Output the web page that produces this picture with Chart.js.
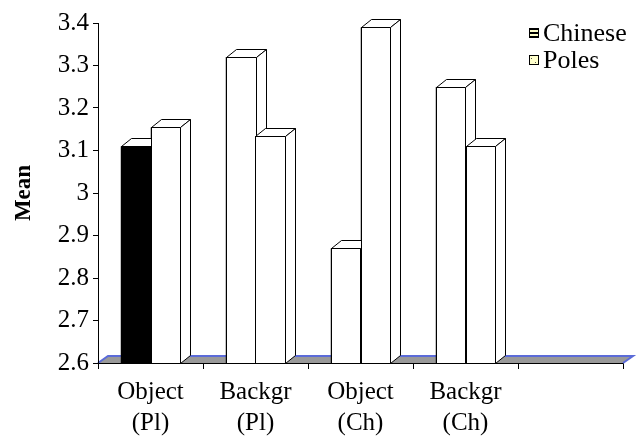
<!DOCTYPE html>
<html>
<head>
<meta charset="utf-8">
<script src="https://cdn.jsdelivr.net/npm/chart.js@4.4.0/dist/chart.umd.min.js"></script>
<style>
html, body { margin: 0; padding: 0; background: #fff; }
</style>
</head>
<body>
<canvas id="barChart" width="640" height="437"></canvas>
<script>
// data
const categories = [['Object', '(Pl)'], ['Backgr', '(Pl)'], ['Object', '(Ch)'], ['Backgr', '(Ch)'], ''];
const seriesNames = ['Chinese', 'Poles'];
const chineseMeans = [3.11, 3.32, 2.87, 3.25, null];
const polesMeans = [3.155, 3.135, 3.39, 3.11, null];
const chineseColors = ['#000000', '#ffffff', '#ffffff', '#ffffff', '#ffffff'];
const yMin = 2.6, yMax = 3.4, yStep = 0.1;

const FONT = "'Liberation Serif', 'Times New Roman', serif";
const depthX = 10, depthY = 8;     // bar depth
const floorX = 10, floorY = 7;     // floor depth

let ctx = document.getElementById('barChart').getContext('2d');

function crisp(v) {
    return Math.round(v) + 0.5;
}

const bar3d = {
    id: 'bar3d',
    beforeDatasetsDraw(chart) {
        //Floor under the bars
        const a = chart.chartArea;
        const c = chart.ctx;
        c.save();
        c.beginPath();
        c.moveTo(a.left, a.bottom);
        c.lineTo(a.left + floorX, a.bottom - floorY);
        c.lineTo(a.right + floorX, a.bottom - floorY);
        c.lineTo(a.right, a.bottom);
        c.closePath();
        c.fillStyle = '#999999';
        c.fill();
        c.beginPath();
        c.moveTo(a.left, a.bottom);
        c.lineTo(a.left + floorX, a.bottom - floorY);
        c.lineTo(a.right + floorX, a.bottom - floorY);
        c.lineTo(a.right, a.bottom);
        c.strokeStyle = '#5b6bd8';
        c.lineWidth = 2;
        c.stroke();
        c.beginPath();
        c.moveTo(a.left, crisp(a.bottom));
        c.lineTo(a.right, crisp(a.bottom));
        c.moveTo(crisp(a.left), a.top);
        c.lineTo(crisp(a.left), a.bottom);
        c.strokeStyle = '#000';
        c.lineWidth = 1;
        c.stroke();
        c.restore();
    },
    afterDatasetsDraw(chart) {
        const c = chart.ctx;
        const a = chart.chartArea;
        const metas = [chart.getDatasetMeta(0), chart.getDatasetMeta(1)];
        c.save();
        c.lineWidth = 1;
        c.strokeStyle = '#000';
        c.lineJoin = 'miter';
        for (let i = 0; i < categories.length; i++) {
            metas.forEach((meta, d) => {
                const ds = chart.data.datasets[d];
                if (ds.data[i] === null) return;
                const bar = meta.data[i];
                const p = bar.getProps(['x', 'y', 'base', 'width'], true);
                const x0 = crisp(p.x - p.width / 2), x1 = crisp(p.x + p.width / 2);
                const top = crisp(p.y), base = crisp(Math.min(p.base, a.bottom));
                const fill = Array.isArray(ds.backgroundColor) ? ds.backgroundColor[i] : ds.backgroundColor;
                // front
                c.fillStyle = fill;
                c.fillRect(x0, top, x1 - x0, base - top);
                c.strokeRect(x0, top, x1 - x0, base - top);
                // top face
                c.beginPath();
                c.moveTo(x0, top);
                c.lineTo(x0 + depthX, top - depthY);
                c.lineTo(x1 + depthX, top - depthY);
                c.lineTo(x1, top);
                c.closePath();
                c.fillStyle = '#ffffff';
                c.fill();
                c.stroke();
                // side face
                c.beginPath();
                c.moveTo(x1, top);
                c.lineTo(x1 + depthX, top - depthY);
                c.lineTo(x1 + depthX, base - depthY);
                c.lineTo(x1, base);
                c.closePath();
                c.fillStyle = '#ffffff';
                c.fill();
                c.stroke();
            });
        }
        c.restore();
    },
    afterDraw(chart) {
        //Legend, drawn by hand so the boxes get their patterns
        const c = chart.ctx;
        const bx = 529, size = 10;
        const rows = [33, 60];
        c.save();
        c.font = '26px ' + FONT;
        c.textBaseline = 'middle';
        c.fillStyle = '#000';
        rows.forEach((cy, k) => {
            const by = cy - size / 2;
            if (k === 0) {
                c.fillStyle = '#000';
                c.fillRect(bx, by, size, size);
                c.fillStyle = '#ffffcc';
                c.fillRect(bx + 1, by + 2, size - 2, 2);
                c.fillRect(bx + 1, by + 6, size - 2, 2);
            } else {
                c.fillStyle = '#ffffcc';
                c.fillRect(bx, by, size, size);
                c.fillStyle = '#555';
                c.fillRect(bx + 2, by + 3, 1, 1);
                c.fillRect(bx + 6, by + 7, 1, 1);
            }
            c.strokeStyle = '#000';
            c.lineWidth = 1;
            c.strokeRect(bx + 0.5, by + 0.5, size - 1, size - 1);
            c.fillStyle = '#000';
            c.fillText(seriesNames[k], bx + size + 4, cy + 1);
        });
        c.restore();
    }
};

var data = {
    labels: categories,
    datasets: [
        {
            label: seriesNames[0],
            data: chineseMeans,
            backgroundColor: chineseColors,
            borderColor: '#000',
            borderWidth: 1
        },
        {
            label: seriesNames[1],
            data: polesMeans,
            backgroundColor: '#ffffff',
            borderColor: '#000',
            borderWidth: 1
        }
    ]
};

var options = {
    responsive: false,
    animation: false,
    layout: {
        padding: { top: 23, right: 17, left: 0, bottom: 0 }
    },
    datasets: {
        bar: {
            categoryPercentage: 0.571,
            barPercentage: 1.0
        }
    },
    scales: {
        x: {
            grid: {
                offset: true,
                drawOnChartArea: false,
                tickLength: 6,
                color: '#000'
            },
            border: { color: '#000', width: 1 },
            ticks: {
                color: '#000',
                font: { family: FONT, size: 25, lineHeight: 1.24 },
                padding: 8,
                maxRotation: 0,
                autoSkip: false
            },
            afterFit: function (scale) {
                scale.height = 74;
            }
        },
        y: {
            min: yMin,
            max: yMax,
            grid: {
                drawOnChartArea: false,
                tickLength: 5,
                color: '#000'
            },
            border: { color: '#000', width: 1 },
            ticks: {
                stepSize: yStep,
                color: '#000',
                padding: 4,
                font: { family: FONT, size: 25 },
                callback: function (v) {
                    return String(Math.round(v * 10) / 10);
                }
            },
            title: {
                display: true,
                text: 'Mean',
                color: '#000',
                padding: { top: 10, bottom: 0 },
                font: { family: FONT, size: 23, weight: 'bold' }
            },
            afterFit: function (scale) {
                scale.width = 98;
            }
        }
    },
    plugins: {
        legend: { display: false },
        tooltip: { enabled: false }
    }
};

let chart = new Chart(ctx, {
    type: 'bar',
    data: data,
    options: options,
    plugins: [bar3d]
});
</script>
</body>
</html>
